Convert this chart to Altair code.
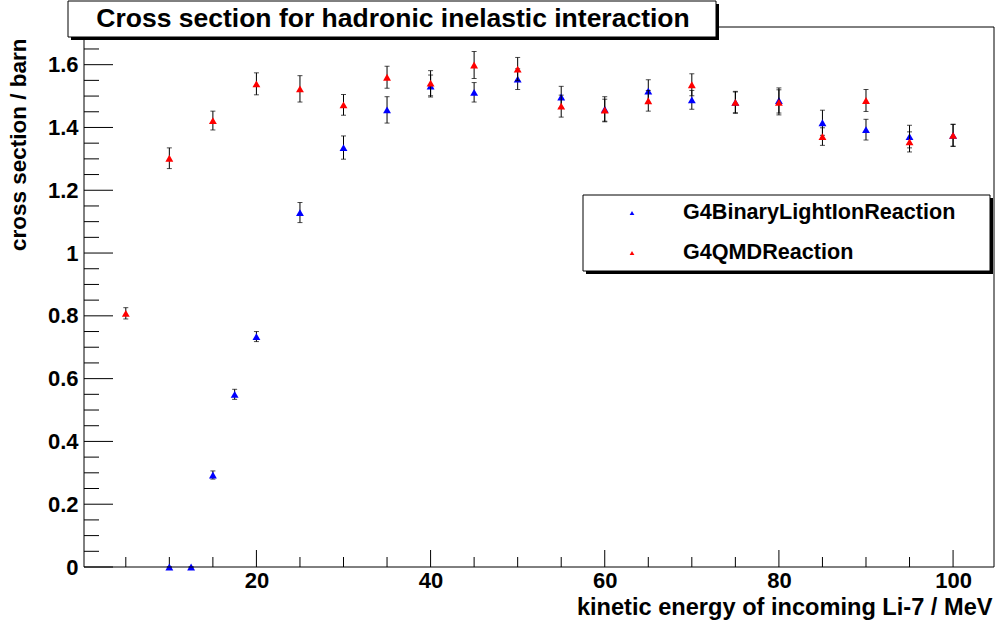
import altair as alt
import pandas as pd

# ---------------- data ----------------
qmd_energy = [5, 10, 15, 20, 25, 30, 35, 40, 45, 50, 55, 60, 65, 70, 75, 80, 85, 90, 95, 100]
qmd_xs = [0.808, 1.302, 1.422, 1.539, 1.523, 1.472, 1.560, 1.541, 1.599, 1.586,
          1.468, 1.455, 1.485, 1.536, 1.480, 1.480, 1.371, 1.486, 1.354, 1.375]
qmd_err = [0.018, 0.033, 0.030, 0.035, 0.042, 0.033, 0.035, 0.040, 0.043, 0.037,
           0.035, 0.035, 0.033, 0.035, 0.033, 0.040, 0.028, 0.035, 0.032, 0.035]

bic_energy = [10, 12.5, 15, 17.5, 20, 25, 30, 35, 40, 45, 50, 55, 60, 65, 70, 75, 80, 85, 90, 95, 100]
bic_xs = [0, 0, 0.293, 0.550, 0.734, 1.129, 1.336, 1.456, 1.532, 1.512, 1.554,
          1.497, 1.458, 1.516, 1.488, 1.480, 1.486, 1.415, 1.393, 1.371, 1.375]
bic_err = [0, 0, 0.013, 0.016, 0.016, 0.032, 0.037, 0.042, 0.035, 0.031, 0.033,
           0.034, 0.040, 0.036, 0.030, 0.035, 0.040, 0.040, 0.033, 0.036, 0.035]

series_names = ["G4BinaryLightIonReaction", "G4QMDReaction"]
series_colors = ["#0000ff", "#ff0000"]

x_major = [20, 40, 60, 80, 100]
x_minor = [5, 10, 15, 25, 30, 35, 45, 50, 55, 65, 70, 75, 85, 90, 95]
y_major = [0, 0.2, 0.4, 0.6, 0.8, 1, 1.2, 1.4, 1.6]
y_minor = [0.05, 0.1, 0.15, 0.25, 0.3, 0.35, 0.45, 0.5, 0.55, 0.65, 0.7, 0.75,
           0.85, 0.9, 0.95, 1.05, 1.1, 1.15, 1.25, 1.3, 1.35, 1.45, 1.5, 1.55, 1.65, 1.7]

title_text = "Cross section for hadronic inelastic interaction"
x_title = "kinetic energy of incoming Li-7 / MeV"
y_title = "cross section / barn"

# ---------------- layout ----------------
W, H = 910, 540
FONT = "Liberation Sans"
X_DOMAIN = [0.2, 104.7]
Y_DOMAIN = [0, 1.72]

xs = alt.Scale(domain=X_DOMAIN, nice=False, zero=False)
ys = alt.Scale(domain=Y_DOMAIN, nice=False, zero=False)

x_axis = alt.Axis(values=x_major, format=".0f", ticks=False, domain=False, grid=False,
                  labelPadding=3, title=x_title, titleX=908, titleY=40,
                  titleAlign="right", titleBaseline="middle", titleFontSize=23.6)
y_axis = alt.Axis(values=y_major, format=".2~f", ticks=False, domain=False, grid=False,
                  labelPadding=6, title=y_title, titleX=-66, titleY=11,
                  titleAlign="right", titleBaseline="middle", titleAngle=270, titleFontSize=22.5)


def X(field):
    return alt.X(field, type="quantitative", scale=xs, axis=x_axis)


def Y(field):
    return alt.Y(field, type="quantitative", scale=ys, axis=y_axis)


qmd = pd.DataFrame({"E": qmd_energy, "xs": qmd_xs, "err": qmd_err})
bic = pd.DataFrame({"E": bic_energy, "xs": bic_xs, "err": bic_err})
one = pd.DataFrame({"a": [0]})


def series_layers(df, color):
    base = alt.Chart(df).transform_calculate(lo="datum.xs - datum.err", hi="datum.xs + datum.err")
    bar = base.mark_rule(color="black", strokeWidth=1).encode(x=X("E"), y=Y("lo"), y2="hi:Q")
    cap_lo = base.mark_tick(orient="horizontal", size=5, thickness=1, color="black").encode(x=X("E"), y=Y("lo"))
    cap_hi = base.mark_tick(orient="horizontal", size=5, thickness=1, color="black").encode(x=X("E"), y=Y("hi"))
    pts = base.mark_point(shape="triangle-up", filled=True, size=62, color=color, opacity=1).encode(
        x=X("E"), y=Y("xs"))
    return [bar, cap_lo, cap_hi, pts]


# inward ticks
xmaj = alt.Chart(pd.DataFrame({"v": x_major})).mark_rule(color="black").encode(
    x=X("v"), y=alt.value(H), y2=alt.value(H - 17))
xmin_ = alt.Chart(pd.DataFrame({"v": x_minor})).mark_rule(color="black").encode(
    x=X("v"), y=alt.value(H), y2=alt.value(H - 10))
ymaj = alt.Chart(pd.DataFrame({"v": y_major})).mark_rule(color="black").encode(
    y=Y("v"), x=alt.value(0), x2=alt.value(29))
ymin_ = alt.Chart(pd.DataFrame({"v": y_minor})).mark_rule(color="black").encode(
    y=Y("v"), x=alt.value(0), x2=alt.value(15))

frame = alt.Chart(one).mark_rect(fillOpacity=0, stroke="black", strokeWidth=1).encode(
    x=alt.value(0), x2=alt.value(W), y=alt.value(0), y2=alt.value(H))

# title box
t_shadow = alt.Chart(one).mark_rect(color="black").encode(
    x=alt.value(-13), x2=alt.value(635), y=alt.value(-23), y2=alt.value(13))
t_box = alt.Chart(one).mark_rect(fill="white", stroke="black", strokeWidth=1).encode(
    x=alt.value(-16), x2=alt.value(632), y=alt.value(-26), y2=alt.value(10))
t_text = alt.Chart(pd.DataFrame({"t": [title_text]})).mark_text(
    font=FONT, fontSize=26.5, fontWeight="bold", color="black", align="center", baseline="middle").encode(
    x=alt.value(309), y=alt.value(-8), text="t:N")

# legend
l_shadow = alt.Chart(one).mark_rect(color="black").encode(
    x=alt.value(502), x2=alt.value(909), y=alt.value(171), y2=alt.value(247))
l_box = alt.Chart(one).mark_rect(fill="white", stroke="black", strokeWidth=1).encode(
    x=alt.value(499), x2=alt.value(906), y=alt.value(168), y2=alt.value(244))
legend_layers = []
for i, (nm, col) in enumerate(zip(series_names, series_colors)):
    ypos = 186 + 40 * i
    d = pd.DataFrame({"name": [nm]})
    legend_layers.append(alt.Chart(d).mark_point(shape="triangle-up", filled=True, size=22, color=col, opacity=1)
                         .encode(x=alt.value(548), y=alt.value(ypos)))
    legend_layers.append(alt.Chart(d).mark_text(font=FONT, fontSize=21.6, fontWeight="bold", color="black",
                                                align="left", baseline="middle")
                         .encode(x=alt.value(599), y=alt.value(ypos), text="name:N"))

layers = [xmaj, xmin_, ymaj, ymin_] + series_layers(bic, series_colors[0]) + series_layers(qmd, series_colors[1]) \
    + [frame, t_shadow, t_box, t_text, l_shadow, l_box] + legend_layers

chart = alt.layer(*layers).properties(
    width=W, height=H,
    padding={"left": 84, "top": 27, "right": 3, "bottom": 54},
    autosize=alt.AutoSizeParams(type="none"),
    background="white",
).configure_view(strokeWidth=0).configure_axis(
    labelFont=FONT, labelFontSize=22, labelFontWeight="bold", labelColor="black",
    titleFont=FONT, titleFontSize=23, titleFontWeight="bold", titleColor="black",
)

chart.save("out.html", embed_options={"renderer": "svg", "actions": False})
